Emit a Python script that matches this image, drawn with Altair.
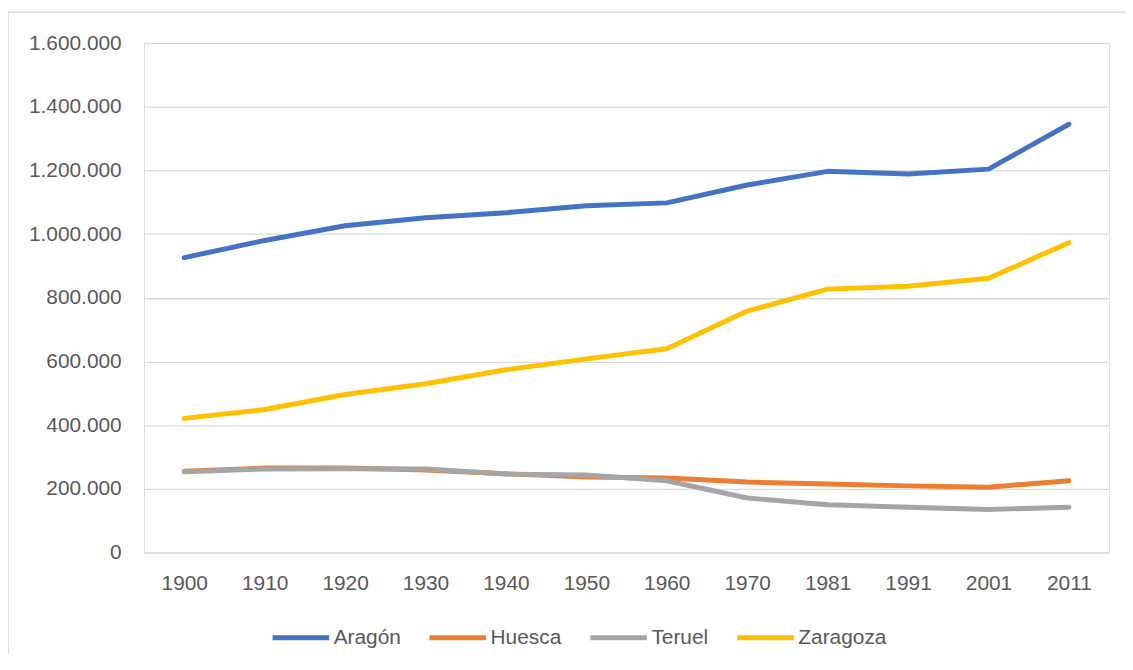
import altair as alt
import pandas as pd

years = ["1900", "1910", "1920", "1930", "1940", "1950", "1960", "1970", "1981", "1991", "2001", "2011"]
aragon = [926000, 980000, 1026000, 1051000, 1067000, 1089000, 1098000, 1154000, 1197000, 1189000, 1204000, 1345000]
huesca = [255000, 265000, 265000, 259000, 247000, 237000, 234000, 221000, 215000, 209000, 205000, 225000]
teruel = [253000, 262000, 263000, 262000, 246000, 243000, 225000, 171000, 150000, 142000, 135000, 142000]
zaragoza = [421000, 449000, 496000, 530000, 574000, 608000, 640000, 758000, 827000, 836000, 861000, 973000]

series = ["Aragón", "Huesca", "Teruel", "Zaragoza"]
colors = ["#4472C4", "#ED7D31", "#A5A5A5", "#FFC000"]

rows = []
for name, vals in zip(series, [aragon, huesca, teruel, zaragoza]):
    for y, v in zip(years, vals):
        rows.append({"Año": y, "Serie": name, "Valor": v})
df = pd.DataFrame(rows)

FONT = "Liberation Sans"
TXT = "#595959"
GRID = "#D9D9D9"
FS = 21

lines = alt.Chart(df).mark_line(strokeWidth=5, strokeCap="round", strokeJoin="round").encode(
    x=alt.X("Año:N", sort=years, title=None,
            scale=alt.Scale(type="point", padding=0.5),
            axis=alt.Axis(labelAngle=0, ticks=False, domain=True, domainColor=GRID,
                          domainWidth=1.3, labelPadding=20, labelFontSize=FS,
                          labelColor=TXT, labelFont=FONT, grid=False)),
    y=alt.Y("Valor:Q", title=None,
            scale=alt.Scale(domain=[0, 1600000], nice=False),
            axis=alt.Axis(values=[0, 200000, 400000, 600000, 800000, 1000000, 1200000, 1400000, 1600000],
                          labelExpr="replace(format(datum.value, ','), regexp(',', 'g'), '.')",
                          ticks=False, domain=False, gridColor=GRID, gridWidth=1.3,
                          labelPadding=23, labelFontSize=FS, labelColor=TXT, labelFont=FONT)),
    color=alt.Color("Serie:N", sort=series,
                    scale=alt.Scale(domain=series, range=colors),
                    legend=alt.Legend(title=None, orient="none", direction="horizontal",
                                      legendX=127, legendY=568,
                                      symbolType="stroke", symbolSize=3249, symbolStrokeWidth=5,
                                      labelFontSize=FS, labelColor=TXT, labelFont=FONT,
                                      labelOffset=2, columnPadding=18)),
)

border = alt.Chart(pd.DataFrame({"a": [0]})).mark_rect(
    fill=None, stroke=GRID, strokeWidth=1.5, clip=False
).encode(x=alt.value(-137), x2=alt.value(990), y=alt.value(-31), y2=alt.value(640))

chart = alt.layer(border, lines).properties(
    width=972, height=513,
    autosize=alt.AutoSizeParams(type="none"),
    padding={"left": 137, "top": 33, "right": 16, "bottom": 100},
).configure_view(stroke=None).configure(background="white")

chart.save("out.html", embed_options={"renderer": "svg", "actions": False})
